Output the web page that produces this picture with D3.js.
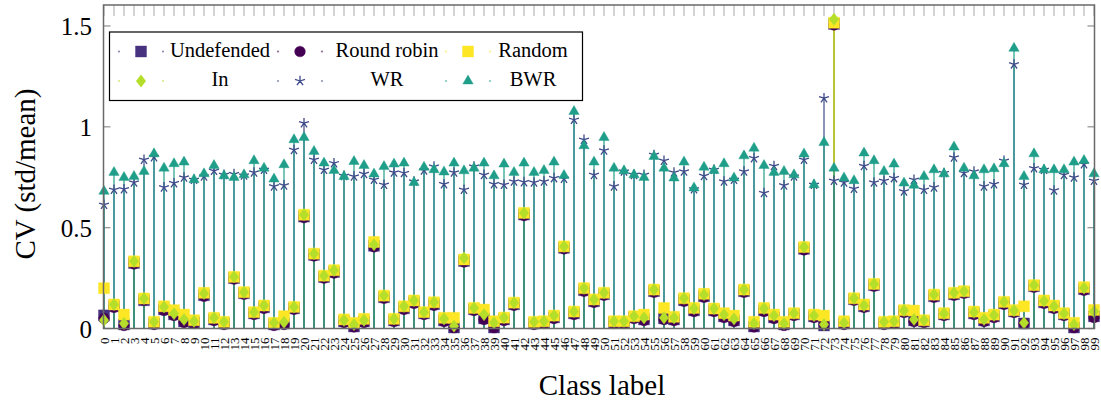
<!DOCTYPE html>
<html>
<head>
<meta charset="utf-8">
<script src="https://cdn.jsdelivr.net/npm/d3@7"></script>
<style>
  body { margin: 0; background: #fff; }
  text { font-family: "Liberation Serif", "Times New Roman", serif; fill: #000; }
</style>
</head>
<body>
<script>
'use strict';

// class labels 0..99
const classes = d3.range(100);

const undefended = [0.065,0.110,0.020,0.325,0.140,0.025,0.095,0.070,0.035,0.030,0.165,0.045,0.025,0.250,0.175,0.075,0.105,0.020,0.025,0.100,0.555,0.365,0.255,0.280,0.035,
  0.010,0.035,0.410,0.155,0.040,0.100,0.130,0.075,0.120,0.040,0.005,0.335,0.095,0.050,0.005,0.045,0.120,0.565,0.025,0.030,0.055,0.400,0.075,0.190,0.135,
  0.170,0.030,0.030,0.055,0.045,0.185,0.050,0.045,0.140,0.090,0.160,0.090,0.060,0.040,0.185,0.010,0.090,0.055,0.020,0.070,0.395,0.060,0.015,1.510,0.025,
  0.145,0.110,0.215,0.025,0.030,0.085,0.040,0.035,0.160,0.070,0.170,0.180,0.075,0.040,0.060,0.125,0.085,0.025,0.210,0.130,0.105,0.070,0.005,0.195,0.060];

const roundRobin = [0.050,0.105,0.015,0.320,0.140,0.020,0.090,0.065,0.030,0.025,0.160,0.040,0.020,0.245,0.170,0.070,0.100,0.015,0.020,0.095,0.550,0.360,0.250,0.275,0.030,
  0.008,0.030,0.405,0.150,0.035,0.095,0.125,0.070,0.115,0.035,0.004,0.330,0.090,0.045,0.004,0.040,0.115,0.560,0.020,0.025,0.050,0.395,0.070,0.185,0.130,
  0.165,0.025,0.025,0.050,0.040,0.180,0.045,0.040,0.135,0.085,0.155,0.085,0.055,0.035,0.180,0.008,0.085,0.050,0.015,0.065,0.390,0.055,0.020,1.505,0.020,
  0.140,0.105,0.210,0.020,0.025,0.080,0.035,0.030,0.155,0.065,0.165,0.175,0.070,0.035,0.055,0.120,0.080,0.025,0.205,0.125,0.100,0.065,0.004,0.190,0.055];

const random = [0.200,0.119,0.069,0.333,0.149,0.033,0.110,0.091,0.069,0.041,0.177,0.053,0.033,0.256,0.180,0.081,0.114,0.028,0.061,0.107,0.564,0.371,0.262,0.289,0.045,
  0.028,0.048,0.429,0.163,0.048,0.110,0.139,0.081,0.130,0.053,0.053,0.342,0.102,0.094,0.036,0.054,0.128,0.573,0.033,0.036,0.064,0.407,0.084,0.200,0.144,
  0.177,0.036,0.036,0.061,0.069,0.193,0.102,0.058,0.150,0.102,0.172,0.099,0.076,0.064,0.193,0.033,0.102,0.069,0.033,0.076,0.404,0.069,0.064,1.516,0.036,
  0.150,0.119,0.221,0.033,0.036,0.091,0.089,0.041,0.168,0.076,0.177,0.185,0.084,0.053,0.069,0.132,0.091,0.110,0.215,0.139,0.114,0.076,0.028,0.205,0.092];

const inDef = [0.041,0.119,0.025,0.333,0.149,0.033,0.107,0.074,0.045,0.036,0.174,0.053,0.033,0.256,0.180,0.081,0.114,0.028,0.031,0.107,0.564,0.371,0.262,0.289,0.041,
  0.020,0.041,0.416,0.163,0.048,0.110,0.139,0.081,0.130,0.048,0.012,0.350,0.102,0.069,0.028,0.054,0.128,0.573,0.033,0.036,0.064,0.407,0.084,0.200,0.144,
  0.177,0.036,0.036,0.061,0.053,0.193,0.053,0.053,0.150,0.099,0.168,0.099,0.069,0.048,0.193,0.025,0.099,0.064,0.025,0.076,0.404,0.064,0.020,1.533,0.028,
  0.150,0.114,0.221,0.033,0.036,0.089,0.045,0.041,0.168,0.074,0.177,0.185,0.081,0.045,0.066,0.132,0.089,0.028,0.215,0.136,0.110,0.074,0.020,0.201,0.084];

const wr = [0.614,0.688,0.691,0.724,0.837,0.850,0.700,0.721,0.749,0.738,0.754,0.782,0.762,0.766,0.759,0.774,0.787,0.705,0.710,0.886,1.018,0.837,0.787,0.820,0.757,
  0.754,0.767,0.738,0.713,0.774,0.771,0.729,0.784,0.803,0.716,0.774,0.688,0.803,0.762,0.716,0.713,0.729,0.726,0.724,0.729,0.746,0.743,1.035,0.936,0.762,
  0.883,0.705,0.779,0.762,0.762,0.861,0.832,0.774,0.779,0.691,0.757,0.787,0.729,0.738,0.779,0.845,0.672,0.806,0.710,0.754,0.837,0.713,1.142,0.733,0.724,
  0.693,0.806,0.724,0.733,0.746,0.680,0.738,0.688,0.700,0.771,0.848,0.771,0.779,0.705,0.716,0.832,1.310,0.713,0.795,0.787,0.685,0.762,0.749,0.815,0.733];

const bwr = [0.680,0.774,0.749,0.754,0.779,0.866,0.795,0.817,0.825,0.738,0.767,0.808,0.757,0.749,0.762,0.832,0.795,0.741,0.812,0.936,0.947,0.878,0.820,0.784,0.754,
  0.828,0.808,0.766,0.803,0.815,0.820,0.724,0.800,0.787,0.776,0.820,0.782,0.795,0.820,0.757,0.815,0.774,0.820,0.774,0.784,0.825,0.759,1.076,0.906,0.825,
  0.947,0.795,0.782,0.762,0.749,0.853,0.795,0.746,0.825,0.697,0.800,0.784,0.817,0.746,0.856,0.894,0.808,0.774,0.779,0.762,0.865,0.713,0.922,0.795,0.746,
  0.733,0.870,0.832,0.779,0.815,0.721,0.710,0.754,0.787,0.767,0.900,0.795,0.757,0.787,0.792,0.817,1.389,0.754,0.866,0.787,0.787,0.787,0.825,0.833,0.767];

const yTicks = [0, 0.5, 1, 1.5];

// marker shapes
const starPath = r => d3.range(5).map(k => {
  const a = -Math.PI / 2 + k * 2 * Math.PI / 5;
  return `M0,0L${(r * Math.cos(a)).toFixed(2)},${(r * Math.sin(a)).toFixed(2)}`;
}).join('');
const shapes = {
  square: 'M-5.5,-5.5H5.5V5.5H-5.5Z',
  circle: d3.symbol(d3.symbolCircle, 90)(),
  diamond: 'M0,-6.2L4.8,0L0,6.2L-4.8,0Z',
  star: starPath(5.2),
  triangle: 'M0,-6L5.2,3L-5.2,3Z'
};

const series = [
  { name: 'Undefended', values: undefended, color: '#46327e', shape: 'square' },
  { name: 'Round robin', values: roundRobin, color: '#440154', shape: 'circle' },
  { name: 'Random', values: random, color: '#fde725', shape: 'square' },
  { name: 'In', values: inDef, color: '#b5de2b', shape: 'diamond' },
  { name: 'WR', values: wr, color: '#3e4a89', shape: 'star' },
  { name: 'BWR', values: bwr, color: '#1f9e89', shape: 'triangle' }
];

const config = {
  width: 1101,
  height: 404,
  left: 103.5,
  right: 1094.5,
  top: 5,
  bottom: 328.5
};

const svg = d3.select('body')
  .append('svg')
  .attr('width', config.width)
  .attr('height', config.height);

const x = d3.scaleLinear()
  .domain([0, 99])
  .range([104, 1094]);

const y = d3.scaleLinear()
  .domain([0, 1.6])
  .range([config.bottom, 5.8]);

// gray class ticks, top and bottom
const tickG = svg.append('g');
tickG.selectAll('line.top')
  .data(classes)
  .enter().append('line')
  .attr('x1', d => x(d)).attr('x2', d => x(d))
  .attr('y1', config.top).attr('y2', config.top + 11)
  .attr('stroke', '#bdbdbd').attr('stroke-width', 1.3);
tickG.selectAll('line.bot')
  .data(classes)
  .enter().append('line')
  .attr('x1', d => x(d)).attr('x2', d => x(d))
  .attr('y1', config.bottom).attr('y2', config.bottom - 11)
  .attr('stroke', '#bdbdbd').attr('stroke-width', 1.3);

// y ticks on both sides (inside)
yTicks.forEach(t => {
  tickG.append('line')
    .attr('x1', config.left).attr('x2', config.left + 7)
    .attr('y1', y(t)).attr('y2', y(t))
    .attr('stroke', '#999').attr('stroke-width', 1.3);
  tickG.append('line')
    .attr('x1', config.right).attr('x2', config.right - 7)
    .attr('y1', y(t)).attr('y2', y(t))
    .attr('stroke', '#999').attr('stroke-width', 1.3);
});

// stems (ycomb)
const stemG = svg.append('g');
series.forEach(s => {
  stemG.append('g')
    .selectAll('line')
    .data(s.values)
    .enter().append('line')
    .attr('x1', (d, i) => x(classes[i]))
    .attr('x2', (d, i) => x(classes[i]))
    .attr('y1', y(0))
    .attr('y2', d => y(d))
    .attr('stroke', s.color)
    .attr('stroke-opacity', 0.6)
    .attr('stroke-width', 2);
});

// markers
const markG = svg.append('g');
series.forEach(s => {
  const isStar = s.shape === 'star';
  markG.append('g')
    .selectAll('path')
    .data(s.values)
    .enter().append('path')
    .attr('d', shapes[s.shape])
    .attr('transform', (d, i) => `translate(${x(classes[i])},${y(d)})`)
    .attr('fill', isStar ? 'none' : s.color)
    .attr('stroke', s.color)
    .attr('stroke-width', isStar ? 1.3 : 0.4);
});

// frame
svg.append('rect')
  .attr('x', config.left).attr('y', config.top)
  .attr('width', config.right - config.left)
  .attr('height', config.bottom - config.top)
  .attr('fill', 'none')
  .attr('stroke', '#6a6a6a')
  .attr('stroke-width', 1.5);

// x axis labels
const xAxis = d3.axisBottom(x)
  .tickValues(classes)
  .tickSize(0)
  .tickFormat(d3.format('d'));
const xAxisGroup = svg.append('g')
  .attr('transform', `translate(0, ${config.bottom})`)
  .call(xAxis);
xAxisGroup.select('.domain').remove();
xAxisGroup.selectAll('text')
  .attr('font-family', '"Liberation Serif", serif')
  .attr('font-size', 13)
  .attr('fill', '#000')
  .attr('text-anchor', 'end')
  .attr('dy', null)
  .attr('y', 0)
  .attr('dominant-baseline', 'central')
  .attr('transform', 'translate(0, 9) rotate(-90)');

// y axis labels
const yAxis = d3.axisLeft(y)
  .tickValues(yTicks)
  .tickSize(0)
  .tickFormat(d3.format('~g'));
const yAxisGroup = svg.append('g')
  .attr('transform', `translate(92, 0)`)
  .call(yAxis);
yAxisGroup.select('.domain').remove();
yAxisGroup.selectAll('text')
  .attr('font-family', '"Liberation Serif", serif')
  .attr('font-size', 25)
  .attr('fill', '#000')
  .attr('x', 0)
  .attr('dy', null)
  .attr('dominant-baseline', 'central');

// axis titles
svg.append('text')
  .attr('x', 602).attr('y', 395)
  .attr('text-anchor', 'middle')
  .attr('font-size', 29)
  .text('Class label');
svg.append('text')
  .attr('transform', 'translate(35, 174) rotate(-90)')
  .attr('text-anchor', 'middle')
  .attr('font-size', 29)
  .text('CV (std/mean)');

// legend
const legend = svg.append('g');
legend.append('rect')
  .attr('x', 109.5).attr('y', 32)
  .attr('width', 473).attr('height', 68.5)
  .attr('fill', '#fff')
  .attr('stroke', '#000')
  .attr('stroke-width', 1.2);

const markerX = [141, 300, 468];
const textX = [220, 387, 533];
const rowY = [51.5, 81];
const baseY = [57, 86];

series.forEach((s, k) => {
  const col = k % 3, row = Math.floor(k / 3);
  const g = legend.append('g');
  [-22, 22].forEach(dx => {
    g.append('circle')
      .attr('cx', markerX[col] + dx).attr('cy', rowY[row])
      .attr('r', 0.9)
      .attr('fill', s.color)
      .attr('fill-opacity', 0.7);
  });
  g.append('path')
    .attr('d', shapes[s.shape])
    .attr('transform', `translate(${markerX[col]},${rowY[row]})`)
    .attr('fill', s.shape === 'star' ? 'none' : s.color)
    .attr('stroke', s.color)
    .attr('stroke-width', s.shape === 'star' ? 1.3 : 0.4);
  g.append('text')
    .attr('x', textX[col]).attr('y', baseY[row])
    .attr('text-anchor', 'middle')
    .attr('font-size', 20.5)
    .text(s.name);
});
</script>
</body>
</html>
